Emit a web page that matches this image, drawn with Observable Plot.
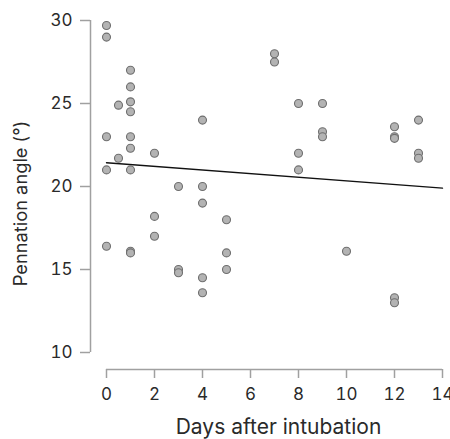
<!DOCTYPE html>
<html><head><meta charset="utf-8">
<script src="https://cdn.jsdelivr.net/npm/d3@7"></script>
<script src="https://cdn.jsdelivr.net/npm/@observablehq/plot@0.6"></script>
<style>body{margin:0;background:#fff}</style>
</head><body><div id="chart"></div>
<script>
const days = [0, 0, 0, 0, 0,
  0.5, 0.5,
  1, 1, 1, 1, 1, 1, 1, 1, 1,
  2, 2, 2,
  3, 3, 3,
  4, 4, 4, 4, 4,
  5, 5, 5,
  7, 7,
  8, 8, 8,
  9, 9, 9,
  10,
  12, 12, 12, 12, 12,
  13, 13, 13];
const angles = [29.7, 29.0, 23.0, 21.0, 16.4,
  24.9, 21.7,
  27.0, 26.0, 25.1, 24.5, 23.0, 22.3, 21.0, 16.1, 16.0,
  22.0, 18.2, 17.0,
  20.0, 15.0, 14.8,
  24.0, 20.0, 19.0, 14.5, 13.6,
  18.0, 16.0, 15.0,
  28.0, 27.5,
  25.0, 22.0, 21.0,
  25.0, 23.3, 23.0,
  16.1,
  23.6, 23.0, 22.9, 13.3, 13.0,
  24.0, 22.0, 21.7];
const xTicks = [0, 2, 4, 6, 8, 10, 12, 14];
const yTicks = [10, 15, 20, 25, 30];
const fitDays = [0, 14];
const fitAngles = [21.43, 19.9];
const xLabel = "Days after intubation";
const yLabel = "Pennation angle (°)";

const points = days.map((d, i) => ({day: d, angle: angles[i]}));
const fit = fitDays.map((d, i) => ({day: d, angle: fitAngles[i]}));

const axisColor = "#a0a0a0";
const textColor = "#2a2a2a";
const chart = Plot.plot({
  width: 450, height: 439,
  marginLeft: 106, marginRight: 8, marginTop: 20, marginBottom: 87,
  style: {fontFamily: "Inter, 'Liberation Sans', Arial, sans-serif", fontSize: "17px", color: textColor, background: "#fff", overflow: "visible"},
  x: {domain: [xTicks[0], xTicks[xTicks.length - 1]]},
  y: {domain: [yTicks[0], yTicks[yTicks.length - 1]]},
  marks: [
    Plot.ruleX([xTicks[0]], {y1: yTicks[0], y2: yTicks[yTicks.length - 1], dx: -16, stroke: axisColor, strokeWidth: 1.5}),
    Plot.ruleY([yTicks[0]], {x1: xTicks[0], x2: xTicks[xTicks.length - 1], dy: 17, stroke: axisColor, strokeWidth: 1.5}),
    Plot.axisY({ticks: yTicks, dx: -16, tickSize: 10, tickPadding: 8, stroke: axisColor, fill: textColor, strokeWidth: 1.5, label: null, fontSize: 17}),
    Plot.axisX({ticks: xTicks, dy: 17, tickSize: 9, tickPadding: 9, stroke: axisColor, fill: textColor, strokeWidth: 1.5, label: null, fontSize: 17}),
    Plot.line(fit, {x: "day", y: "angle", stroke: "#111", strokeWidth: 1.4}),
    Plot.dot(points, {x: "day", y: "angle", r: 4, fill: "#b3b3b3", stroke: "#6e6e6e", strokeWidth: 1.1}),
    Plot.text([xLabel], {frameAnchor: "bottom", dx: 4, dy: 81, lineAnchor: "bottom", textAnchor: "middle", fontSize: 21, fill: textColor}),
    Plot.text([yLabel], {frameAnchor: "left", rotate: -90, dx: -85, dy: 17, textAnchor: "middle", fontSize: 18.3, fill: textColor})
  ]
});
document.getElementById("chart").appendChild(chart);
</script>
</body></html>
